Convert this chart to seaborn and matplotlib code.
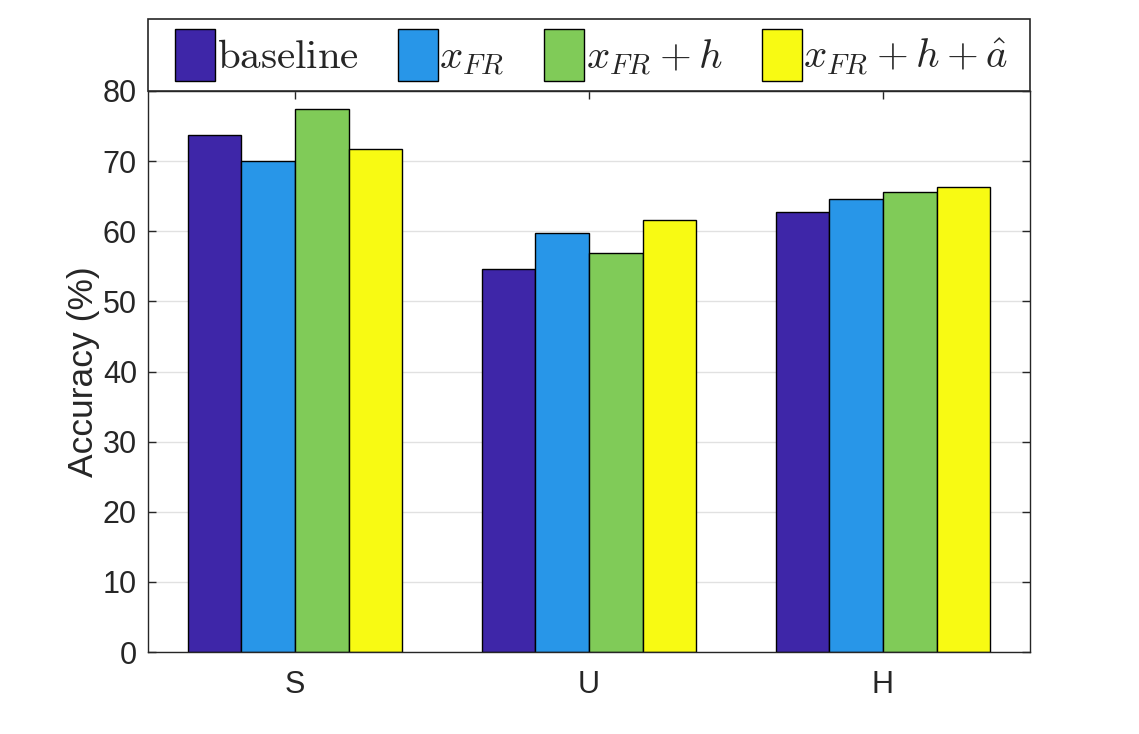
import numpy as np
import pandas as pd
import matplotlib
matplotlib.use("Agg")
import matplotlib.pyplot as plt
import seaborn as sns
from matplotlib.patches import Patch, Rectangle

# ---- data ----
categories = ["S", "U", "H"]
series_labels = [r"$\mathrm{baseline}$", r"$x_{FR}$", r"$x_{FR}+h$", r"$x_{FR}+h+\hat{a}$"]
baseline = [73.7, 54.6, 62.7]
x_fr = [70.0, 59.8, 64.6]
x_fr_h = [77.4, 56.9, 65.6]
x_fr_h_a = [71.7, 61.6, 66.3]
colors = ["#3E26A8", "#2896E8", "#80CB58", "#F8FA13"]
yticks = [0, 10, 20, 30, 40, 50, 60, 70, 80]

series_values = [baseline, x_fr, x_fr_h, x_fr_h_a]
rows = []
for lab, vals in zip(series_labels, series_values):
    for c, v in zip(categories, vals):
        rows.append({"cat": c, "method": lab, "acc": v})
df = pd.DataFrame(rows)

sns.set_style("white")
plt.rcParams["font.family"] = ["Liberation Sans", "DejaVu Sans"]
plt.rcParams["mathtext.fontset"] = "cm"

W, H = 1139, 734
fig = plt.figure(figsize=(W / 100, H / 100), dpi=100)
ax = fig.add_axes([148 / W, 82 / H, 882 / W, 561 / H])

sns.barplot(data=df, x="cat", y="acc", hue="method", hue_order=series_labels,
            order=categories, palette=colors, width=0.728, gap=0,
            edgecolor="black", linewidth=1, saturation=1, errorbar=None,
            legend=False, ax=ax)

ax.set_xlim(-0.5, 2.5)
ax.set_ylim(0, 80)
ax.set_yticks(yticks)
ax.yaxis.grid(True, color="#E1E1E1", lw=1)
ax.xaxis.grid(False)
ax.set_axisbelow(True)
ax.tick_params(direction="in", length=6, width=1, colors="#262626",
               labelsize=22, top=True, right=True, bottom=True, left=True)
ax.tick_params(axis="x", pad=13)
ax.tick_params(axis="y", pad=8)
for s in ax.spines.values():
    s.set_visible(True)
    s.set_color("#262626")
    s.set_linewidth(1)
ax.set_xlabel("")
ax.set_ylabel("Accuracy (%)", fontsize=25.5, color="#262626", labelpad=2.0)

# legend box above the axes
frame_h = 72 / 561
ax.add_patch(Rectangle((0, 1), 1, frame_h, transform=ax.transAxes, clip_on=False,
                       facecolor="white", edgecolor="#262626", lw=1.2, zorder=4))
handles = [Patch(facecolor=c, edgecolor="black", lw=1, label=l)
           for c, l in zip(colors, series_labels)]
leg = ax.legend(handles=handles, ncol=4, mode="expand", loc="center",
                bbox_to_anchor=(27 / 882, 1, 833 / 882, frame_h),
                frameon=False, fontsize=29.5, handlelength=0.976, handleheight=1.61,
                handletextpad=0.04, borderpad=0, borderaxespad=0)
leg.set_zorder(5)

fig.savefig("out.png", dpi=100)
